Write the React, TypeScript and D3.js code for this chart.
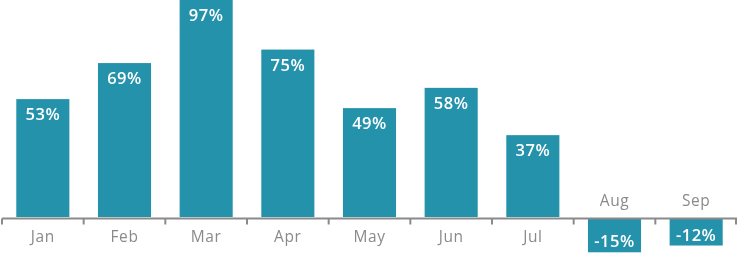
import React, { useEffect, useRef } from "react";
import * as d3 from "d3";

const months = ["Jan", "Feb", "Mar", "Apr", "May", "Jun", "Jul", "Aug", "Sep"];
const values = [53, 69, 97, 75, 49, 58, 37, -15, -12];

const W = 738;
const H = 253;

export default function App() {
  const ref = useRef<SVGSVGElement>(null);
  useEffect(() => {
    const svg = d3.select(ref.current);
    svg.selectAll("*").remove();
    const x = d3.scaleBand<string>().domain(months).range([2, 737]).paddingInner(0.35).paddingOuter(0.175);
    const y = d3.scaleLinear().domain([0, 97]).range([218.5, 0]);
    const color = "#2592ab";
    const font = "'Open Sans', 'Noto Sans', sans-serif";
    const data = months.map((m, i) => ({ m, v: values[i] }));

    svg.append("g").selectAll("rect").data(data).join("rect")
      .attr("x", d => x(d.m)!)
      .attr("width", x.bandwidth())
      .attr("y", d => d.v >= 0 ? y(d.v) : y(0) + 0.5)
      .attr("height", d => d.v >= 0 ? y(0) - 1.5 - y(d.v) : y(d.v) - y(0) - 0.5)
      .attr("fill", color);

    // axis line
    svg.append("line").attr("x1", 2).attr("x2", 737).attr("y1", y(0)).attr("y2", y(0))
      .attr("stroke", "#8a8a8a").attr("stroke-width", 2);
    const step = x.step();
    const ticks = d3.range(months.length + 1).map(i => 2 + i * step);
    svg.append("g").selectAll("line").data(ticks).join("line")
      .attr("x1", d => Math.min(Math.max(d, 2), 736)).attr("x2", d => Math.min(Math.max(d, 2), 736))
      .attr("y1", y(0)).attr("y2", y(0) + 6)
      .attr("stroke", "#8a8a8a").attr("stroke-width", 2);

    // month labels
    svg.append("g").selectAll("text").data(data).join("text")
      .attr("x", d => x(d.m)! + x.bandwidth() / 2)
      .attr("y", d => d.v >= 0 ? 242 : 206)
      .attr("text-anchor", "middle")
      .attr("font-family", font)
      .attr("font-size", 15.5)
      .attr("letter-spacing", 0.6)
      .attr("fill", "#8a8a8a")
      .text(d => d.m);

    // value labels
    svg.append("g").selectAll("text").data(data).join("text")
      .attr("x", d => x(d.m)! + x.bandwidth() / 2)
      .attr("y", d => d.v >= 0 ? y(d.v) + 21 : y(d.v) - 5)
      .attr("text-anchor", "middle")
      .attr("font-family", font)
      .attr("font-size", 16.5)
      .attr("font-weight", 600)
      .attr("letter-spacing", 0.5)
      .attr("fill", "#ffffff")
      .text(d => `${d.v}%`);
  }, []);
  return (
    <div style={{ position: "fixed", left: 0, top: 0 }}>
      <svg ref={ref} width={W} height={H} style={{ display: "block" }} />
    </div>
  );
}
